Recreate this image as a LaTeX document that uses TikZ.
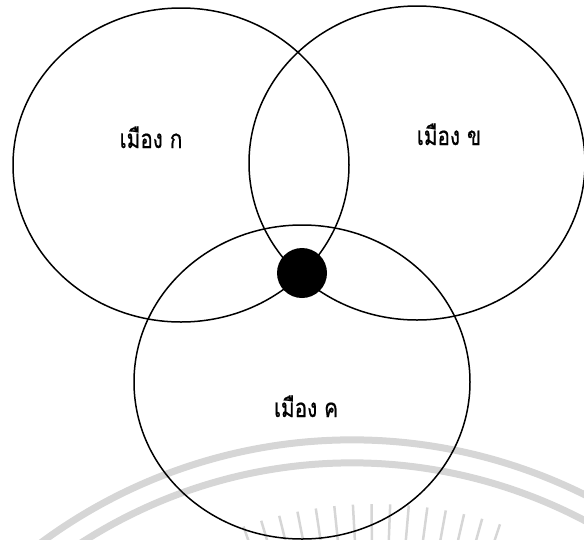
\documentclass[tikz,border=0pt]{standalone}
\usepackage{fontspec}
\newfontfamily\thaifont[Script=Thai, FakeBold=0.7]{Loma}
\usetikzlibrary{shapes.geometric}
\definecolor{wm}{RGB}{214,214,214}
\newcommand{\thaitext}[1]{\scalebox{0.9}[1.12]{\thaifont\fontsize{23}{27}\selectfont #1}}
\tikzset{
  town/.style={draw=black, line width=1.5pt, ellipse, inner sep=0pt,
    minimum width=336pt, minimum height=314pt},
  lbl/.style={inner sep=0pt, anchor=base},
  wmarc/.style={draw=wm, line width=7pt},
  wmray/.style={draw=wm, line width=2.5pt}
}
\begin{document}
\begin{tikzpicture}[x=1pt, y=-1pt]
\useasboundingbox (0,0) rectangle (584,539);
\begin{scope}
\clip (0,0) rectangle (584,539);
% faint watermark
\coordinate (wc) at (352,962);
\draw[wmarc] (wc) ++(200:522) arc[start angle=200, end angle=340, radius=522];
\draw[wmarc] (wc) ++(200:499) arc[start angle=200, end angle=340, radius=499];
\coordinate (rc) at (375,900);
\foreach \a in {70.6,73.3,...,110} {
  \draw[wmray] (rc) ++(\a:-360) -- ++(\a:-36);
}
\end{scope}
% circles
\node[town] (ka) at (181,165) {};
\node[town] (kb) at (417,163) {};
\node[town] (kc) at (302,382) {};
\node[fill=black, circle, minimum size=50pt, inner sep=0pt] (dot) at (302,273) {};
% labels
\node[lbl] (la) at (151,148) {\thaitext{เมือง ก}};
\node[lbl] (lb) at (449,145) {\thaitext{เมือง ข}};
\node[lbl] (lc) at (306,417) {\thaitext{เมือง ค}};
\end{tikzpicture}
\end{document}
